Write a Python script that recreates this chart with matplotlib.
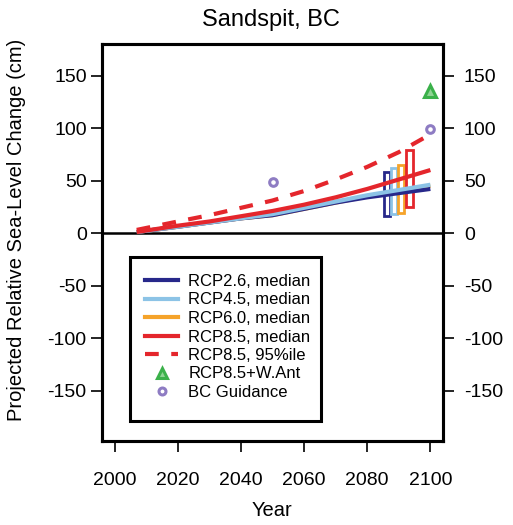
import matplotlib
matplotlib.use("Agg")
import matplotlib.pyplot as plt
from matplotlib.lines import Line2D
from matplotlib.patches import Rectangle
import numpy as np

plt.rcParams['font.family'] = ['Liberation Sans', 'DejaVu Sans']

# ---- data ----
years = [2007, 2020, 2030, 2040, 2050, 2060, 2070, 2080, 2090, 2100]
rcp26 = [1, 6, 10, 14, 17, 23, 29, 34, 38, 42]
rcp45 = [1, 6, 10, 14, 18, 24, 30, 36, 41, 46]
rcp60 = [1, 6, 10, 14, 17, 23, 29, 35, 40, 45]
rcp85 = [1, 7, 11, 16, 21, 27, 34, 42, 51, 60]
rcp85_95 = [3, 11, 17, 24, 31, 40, 51, 63, 77, 94]

box_x = [2086.2, 2088.4, 2090.8, 2093.4]
box_lo = [16, 18, 19, 25]
box_hi = [58, 62, 65, 79]

want_x = [2100]
want_y = [135]
bc_x = [2050, 2100]
bc_y = [49, 99]

xticks = [2000, 2020, 2040, 2060, 2080, 2100]
yticks = [-150, -100, -50, 0, 50, 100, 150]

labels = ["RCP2.6, median", "RCP4.5, median", "RCP6.0, median",
          "RCP8.5, median", "RCP8.5, 95%ile", "RCP8.5+W.Ant", "BC Guidance"]

# ---- style ----
c26 = "#27288a"
c45 = "#8cc3e6"
c60 = "#f5a32a"
c85 = "#e4262c"
cgreen = "#3bb14a"
cpurple = "#8e7cc3"
lw = 3.0

fig = plt.figure(figsize=(5.13, 5.25), dpi=100)
ax = fig.add_axes([102/513, 1-441/525, 341/513, 397/525])
ax.set_xlim(1996, 2104)
ax.set_ylim(-198, 180)

# zero line
ax.axhline(0, color='black', lw=1.8, zorder=1)

# boxes
box_colors = [c26, c45, c60, c85]
box_widths = [1.9, 1.9, 1.9, 2.5]
for x, lo, hi, c, w in zip(box_x, box_lo, box_hi, box_colors, box_widths):
    ax.bar([x], [hi - lo], bottom=[lo], width=w, fill=False,
           edgecolor=c, linewidth=2.0, zorder=2)

ax.plot(years, rcp60, color=c60, lw=lw, zorder=3, solid_capstyle='butt')
ax.plot(years, rcp26, color=c26, lw=lw, zorder=3.1, solid_capstyle='butt')
ax.plot(years, rcp45, color=c45, lw=lw, zorder=3.2, solid_capstyle='butt')
ax.plot(years, rcp85, color=c85, lw=lw, zorder=3.3, solid_capstyle='butt')
ax.plot(years, rcp85_95, color=c85, lw=lw, zorder=3.4, dashes=(3.3, 3.0),
        dash_capstyle='butt')

ax.plot(want_x, want_y, linestyle='none', marker='^', markersize=8,
        markerfacecolor='#8fd494', markeredgecolor=cgreen, markeredgewidth=2.2, zorder=5)
ax.plot(bc_x, bc_y, linestyle='none', marker='o', markersize=5.5,
        markerfacecolor='white', markeredgecolor=cpurple, markeredgewidth=2.2, zorder=5)

# axes styling
for s in ax.spines.values():
    s.set_linewidth(2.2)
ax.set_xticks(xticks)
ax.set_yticks(yticks)
ax.set_yticklabels([str(v) for v in yticks])
ax.tick_params(axis='both', direction='out', length=8, width=1.2, labelsize=14)
ax.tick_params(axis='x', pad=14)
ax.tick_params(axis='y', pad=3)

ax2 = ax.twinx()
ax2.set_ylim(ax.get_ylim())
ax2.set_yticks(yticks)
ax2.set_yticklabels([str(v) for v in yticks])
ax2.tick_params(axis='y', direction='out', length=8, width=1.2, labelsize=14, pad=7)
for s in ax2.spines.values():
    s.set_linewidth(2.2)

# legend frame
frame = Rectangle((28/341, 20/397), 191/341, 164/397, transform=ax.transAxes,
                  facecolor='white', edgecolor='black', linewidth=2.2, zorder=6)
ax.add_patch(frame)

handles = [
    Line2D([], [], color=c26, lw=lw),
    Line2D([], [], color=c45, lw=lw),
    Line2D([], [], color=c60, lw=lw),
    Line2D([], [], color=c85, lw=lw),
    Line2D([], [], color=c85, lw=lw, dashes=(3.3, 3.0), dash_capstyle='butt'),
    Line2D([], [], linestyle='none', marker='^', markersize=7,
           markerfacecolor='#8fd494', markeredgecolor=cgreen, markeredgewidth=2.2),
    Line2D([], [], linestyle='none', marker='o', markersize=5,
           markerfacecolor='white', markeredgecolor=cpurple, markeredgewidth=2.2),
]
leg = ax.legend(handles, labels, loc='upper left', bbox_to_anchor=(43/341, 167/397),
                borderaxespad=0, fontsize=12, labelspacing=0.21, handlelength=2.0,
                handletextpad=0.6, borderpad=0.0, frameon=False)
leg.set_zorder(7)

fig.text(271/513, 1-20/525, "Sandspit, BC", ha='center', va='center', fontsize=17)
fig.text(17/513, 1-230/525, "Projected Relative Sea-Level Change (cm)",
         rotation=90, ha='center', va='center', fontsize=14.5)
fig.text(272/513, 1-510/525, "Year", ha='center', va='center', fontsize=14.5)

fig.savefig("out.png", dpi=100)
